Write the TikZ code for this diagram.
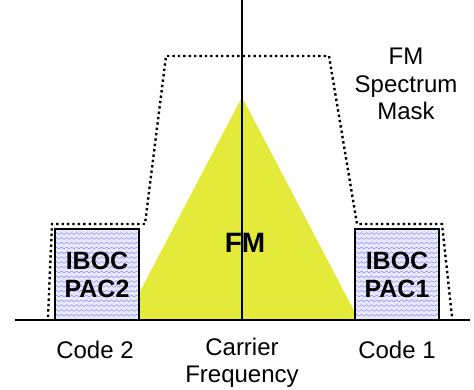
\documentclass[tikz,border=0pt]{standalone}
\usepackage{fontspec}
\setmainfont{Liberation Sans}
\usetikzlibrary{decorations.pathmorphing}

\definecolor{fmyellow}{RGB}{228,234,58}
\definecolor{iboclav}{RGB}{232,232,250}

\begin{document}
\begin{tikzpicture}[x=1pt, y=-1pt,
    ibox/.style={draw, line width=1.6pt, fill=iboclav, minimum width=84pt, minimum height=91pt,
        inner sep=0pt, align=center, font=\fontsize{25}{28}\selectfont\bfseries,
        path picture={
            \foreach \k in {0,...,19}
                \draw[blue!55, line width=0.35pt, decorate,
                      decoration={snake, segment length=5pt, amplitude=0.9pt}]
                    ([yshift=\k*4.8pt]path picture bounding box.south west) --
                    ([yshift=\k*4.8pt]path picture bounding box.south east);
        }},
    mask/.style={line width=2.4pt, dash pattern=on 2.4pt off 3pt},
    axis/.style={line width=2pt},
    label/.style={font=\fontsize{24}{27.5}\selectfont, align=center},
]
\useasboundingbox (0,0) rectangle (474,389);

% FM carrier triangle
\fill[fmyellow] (242,97) -- (125,320) -- (359,320) -- cycle;
\node[font=\fontsize{28}{30}\selectfont\bfseries] (fm) at (245,243) {FM};

% Carrier line
\coordinate (ctop) at (242,0);
\coordinate (cbot) at (242,320);
\draw[line width=2.6pt] (ctop) -- (cbot);

% IBOC boxes
\node[ibox] (pac2) at (97,274.5) {IBOC\\PAC2};
\node[ibox] (pac1) at (397,274.5) {IBOC\\PAC1};

% Spectrum mask
\draw[mask] (48,317) -- (52,224) -- (145,224) -- (166,56) -- (329,56)
    -- (357,224) -- (442,224) -- (452,317);

% Baseline
\coordinate (axl) at (15,320);
\coordinate (axr) at (470,320);
\draw[axis] (axl) -- (axr);

% Labels
\node[label] (code2) at (95,350) {Code 2};
\node[label] (carrier) at (242,363) {Carrier\\Frequency};
\node[label] (code1) at (397,350) {Code 1};
\node[label] (masklbl) at (406,84) {FM\\Spectrum\\Mask};

\end{tikzpicture}
\end{document}
